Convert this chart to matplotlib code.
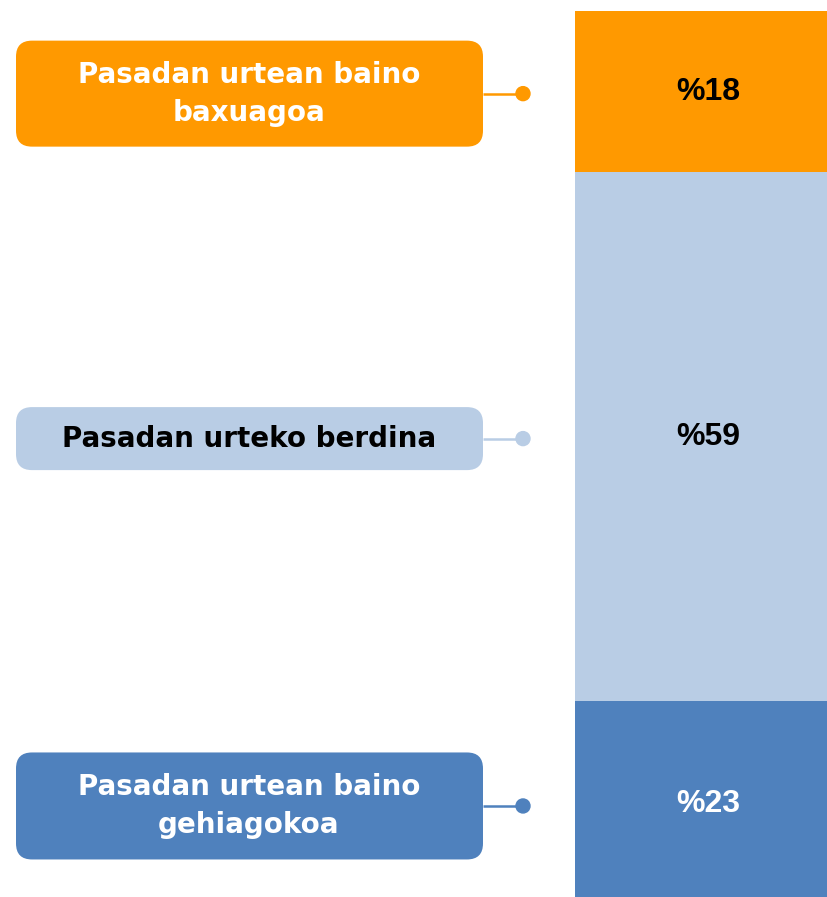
import matplotlib.pyplot as plt
from matplotlib.patches import FancyBboxPatch, Circle

# Data (top to bottom as shown)
categories = ["Pasadan urtean baino\nbaxuagoa", "Pasadan urteko berdina", "Pasadan urtean baino\ngehiagokoa"]
values = [18, 59, 23]
colors = ["#FF9900", "#B9CDE5", "#4F81BD"]
box_text_colors = ["white", "black", "white"]
value_text_colors = ["black", "black", "white"]
box_heights = [106, 63, 107]

W, H = 828, 897
fig = plt.figure(figsize=(W / 100, H / 100), dpi=100)

# stacked bar on the right
ax = fig.add_axes([575 / W, -10 / H, (841 - 575) / W, 896 / H])
ax.set_xlim(-0.5, 0.5)
ax.set_ylim(0, 100)
ax.axis("off")

# stack from the bottom, so walk the lists in reverse
bottoms = []
b = 0
for v in reversed(values):
    bottoms.append(b)
    b += v
bottoms = bottoms[::-1]

centers = []
for v, bt, c, tc in zip(values, bottoms, colors, value_text_colors):
    ax.bar(0, v, bottom=bt, width=1, color=c, edgecolor="none")
    ax.text(0, bt + v / 2, f"%{v}", ha="center", va="center", fontsize=23,
            fontweight="bold", color=tc, family="Liberation Sans")
    centers.append(bt + v / 2)

# overlay in pixel units for the label boxes
ov = fig.add_axes([0, 0, 1, 1])
ov.set_xlim(0, W)
ov.set_ylim(H, 0)
ov.axis("off")

fig.canvas.draw()
for cat, cen, c, tc, bh in zip(categories, centers, colors, box_text_colors, box_heights):
    y = H - ax.transData.transform((0, cen))[1]
    box = FancyBboxPatch((16, y - bh / 2 + 2), 467, bh,
                         boxstyle="round,pad=0,rounding_size=16",
                         facecolor=c, edgecolor="none")
    ov.add_patch(box)
    ov.text(249, y + 2, cat, ha="center", va="center", fontsize=20,
            fontweight="bold", color=tc, linespacing=1.45, family="DejaVu Sans")
    ov.plot([483, 523], [y + 2, y + 2], color=c, lw=1.8, solid_capstyle="butt")
    ov.add_patch(Circle((523, y + 2), 7, color=c))

fig.savefig("out.png", dpi=100, facecolor="white")
